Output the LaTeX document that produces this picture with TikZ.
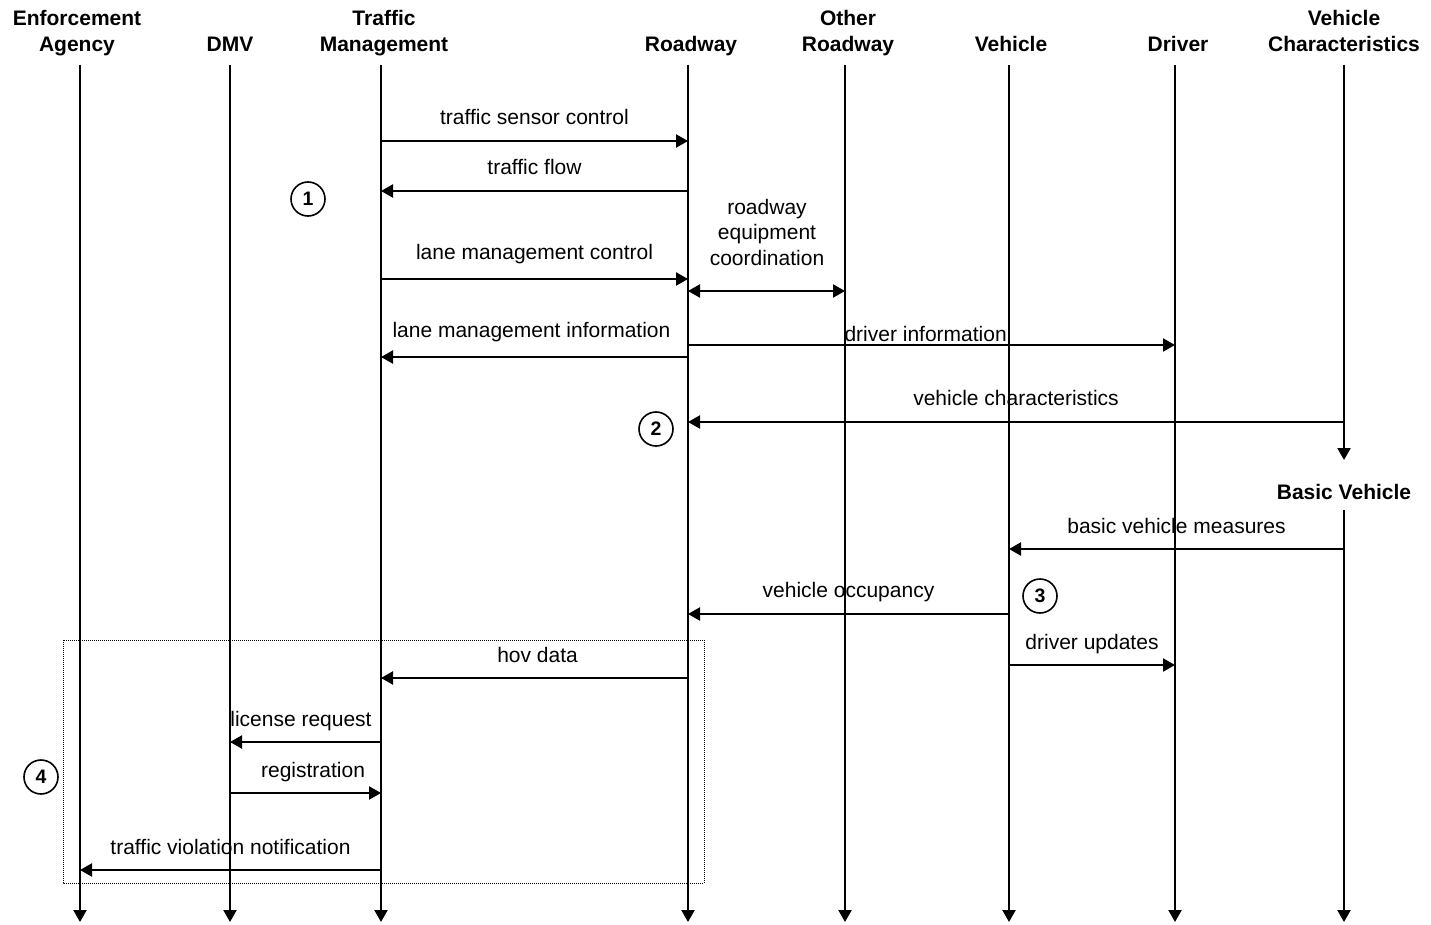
\documentclass[tikz,border=0pt]{standalone}
\usepackage{fontspec}
\setmainfont{Liberation Sans}
\usetikzlibrary{arrows.meta}
\begin{document}
\begin{tikzpicture}[x=1pt,y=-1pt,
  tip/.style={-{Triangle[length=12pt,width=13pt]}},
  life/.style={line width=2.2pt,tip},
  msg/.style={line width=2.2pt,tip},
  both/.style={line width=2.2pt,{Triangle[length=12pt,width=13pt]}-{Triangle[length=12pt,width=13pt]}},
  lbl/.style={font=\fontsize{21}{25.5}\selectfont,inner sep=0pt,anchor=base},
  head/.style={font=\fontsize{21}{26}\selectfont\bfseries,align=center,inner sep=0pt,anchor=south,text depth=0pt},
  num/.style={circle,draw,line width=1.6pt,minimum size=34pt,inner sep=0pt,font=\fontsize{19.5}{21}\selectfont\bfseries},
  group/.style={draw=black,line width=1pt,dash pattern=on 1pt off 1pt}]
\useasboundingbox (0,0) rectangle (1431,925);

% participants
\node[head] (ea)  at (77,52)   {Enforcement\\Agency};
\node[head] (dmv) at (230,52)  {DMV};
\node[head] (tm)  at (384,52)  {Traffic\\Management};
\node[head] (rw)  at (691,52)  {Roadway};
\node[head] (orw) at (848,52)  {Other\\Roadway};
\node[head] (veh) at (1011,52) {Vehicle};
\node[head] (drv) at (1178,52) {Driver};
\node[head] (vc)  at (1344,52) {Vehicle\\Characteristics};
\node[head,anchor=base] (bv) at (1344,499) {Basic Vehicle};

% lifelines
\foreach \n/\x in {ea/80,dmv/230,tm/381,rw/688,orw/845,veh/1009,drv/1175}{
  \coordinate (\n-top) at (\x,65);
  \coordinate (\n-end) at (\x,922);
  \draw[life] (\n-top) -- (\n-end);
}
\coordinate (vc-top) at (1344,65);
\coordinate (vc-mid) at (1344,460);
\coordinate (bv-top) at (1344,510);
\coordinate (bv-end) at (1344,922);
\draw[life] (vc-top) -- (vc-mid);
\draw[life] (bv-top) -- (bv-end);

% message end points
\coordinate (m1a) at (381,141);  \coordinate (m1b) at (688,141);
\coordinate (m2a) at (688,191);  \coordinate (m2b) at (381,191);
\coordinate (m3a) at (381,279);  \coordinate (m3b) at (688,279);
\coordinate (m4a) at (688,291);  \coordinate (m4b) at (845,291);
\coordinate (m5a) at (688,357);  \coordinate (m5b) at (381,357);
\coordinate (m6a) at (688,345);  \coordinate (m6b) at (1175,345);
\coordinate (m7a) at (1344,422); \coordinate (m7b) at (688,422);
\coordinate (m8a) at (1344,549); \coordinate (m8b) at (1009,549);
\coordinate (m9a) at (1009,614); \coordinate (m9b) at (688,614);
\coordinate (m10a) at (1009,665); \coordinate (m10b) at (1175,665);
\coordinate (m11a) at (688,678); \coordinate (m11b) at (381,678);
\coordinate (m12a) at (381,742); \coordinate (m12b) at (230,742);
\coordinate (m13a) at (230,793); \coordinate (m13b) at (381,793);
\coordinate (m14a) at (381,870); \coordinate (m14b) at (80,870);

% messages
\draw[msg] (m1a) -- node[lbl,yshift=16pt] {traffic sensor control} (m1b);
\draw[msg] (m2a) -- node[lbl,yshift=16pt] {traffic flow} (m2b);
\draw[msg] (m3a) -- node[lbl,yshift=20pt] {lane management control} (m3b);
\draw[both] (m4a) -- (m4b);
\node[font=\fontsize{21}{25.5}\selectfont,align=center,inner sep=0pt] (rec) at (767,232)
  {roadway\\equipment\\coordination};
\draw[msg] (m5a) -- node[lbl,yshift=20pt,pos=0.51] {lane management information} (m5b);
\draw[msg] (m6a) -- node[lbl,yshift=4pt,pos=0.488] {driver information} (m6b);
\draw[msg] (m7a) -- node[lbl,yshift=17pt] {vehicle characteristics} (m7b);
\draw[msg] (m8a) -- node[lbl,yshift=16pt] {basic vehicle measures} (m8b);
\draw[msg] (m9a) -- node[lbl,yshift=17pt] {vehicle occupancy} (m9b);
\draw[msg] (m10a) -- node[lbl,yshift=16pt] {driver updates} (m10b);
\draw[msg] (m11a) -- node[lbl,yshift=16pt,pos=0.49] {hov data} (m11b);
\draw[msg] (m12a) -- node[lbl,yshift=16pt,pos=0.53] {license request} (m12b);
\draw[msg] (m13a) -- node[lbl,yshift=16pt,pos=0.55] {registration} (m13b);
\draw[msg] (m14a) -- node[lbl,yshift=16pt] {traffic violation notification} (m14b);

% step markers
\node[num] (s1) at (308,199) {1};
\node[num] (s2) at (656,429) {2};
\node[num] (s3) at (1040,596) {3};
\node[num] (s4) at (41,777) {4};

% enforcement group
\draw[group] (63,640) rectangle (704,883);
\end{tikzpicture}
\end{document}
